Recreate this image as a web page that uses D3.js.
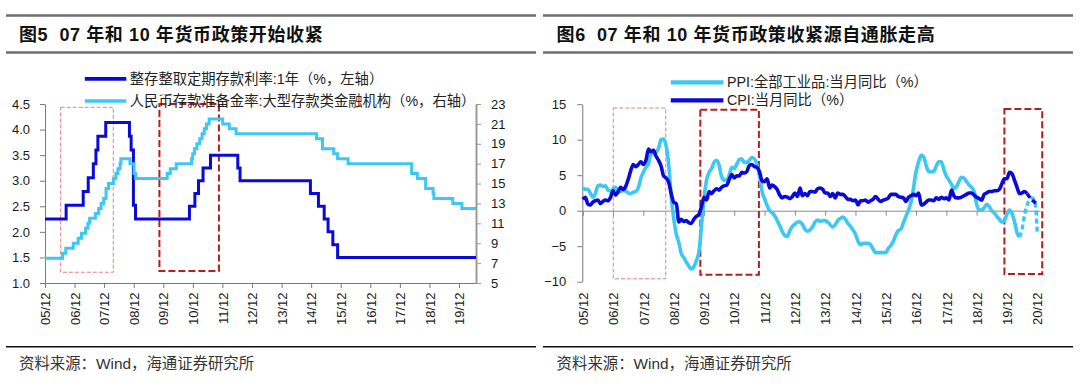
<!DOCTYPE html>
<html>
<head>
<meta charset="utf-8">
<script src="https://cdn.jsdelivr.net/npm/d3@7"></script>
<style>
    body { margin: 0; background: #fff; }
    svg text { font-family: "Liberation Sans", Arial, "Noto Sans CJK SC", sans-serif; }
</style>
</head>
<body>
<div id="charts"></div>
<script>
// ---- left chart: step series (change dates / new level) ----
const depositDates = ["2005-12-01", "2006-08-19", "2007-03-18", "2007-05-19", "2007-07-21", "2007-08-22", "2007-09-15",
    "2007-12-21", "2008-10-09", "2008-10-30", "2008-11-27", "2008-12-23", "2010-10-20", "2010-12-26", "2011-02-09",
    "2011-04-06", "2011-07-07", "2012-06-08", "2012-07-06", "2014-11-22", "2015-03-01", "2015-05-11", "2015-06-28",
    "2015-08-26", "2015-10-24", "2020-06-28"];
const depositRates = [2.25, 2.52, 2.79, 3.06, 3.33, 3.60, 3.87, 4.14, 3.87, 3.60, 2.52, 2.25, 2.50, 2.75, 3.00,
    3.25, 3.50, 3.25, 3.00, 2.75, 2.50, 2.25, 2.00, 1.75, 1.50, 1.50];

const rrrDates = ["2005-12-01", "2006-07-05", "2006-08-15", "2006-11-15", "2007-01-15", "2007-02-25", "2007-04-16",
    "2007-05-15", "2007-06-05", "2007-08-15", "2007-09-25", "2007-10-25", "2007-11-26", "2007-12-25", "2008-01-25",
    "2008-03-25", "2008-04-25", "2008-05-20", "2008-06-15", "2008-06-25", "2008-10-15", "2008-12-05", "2008-12-25",
    "2010-01-18", "2010-02-25", "2010-05-10", "2010-11-16", "2010-11-29", "2010-12-20", "2011-01-20", "2011-02-24",
    "2011-03-25", "2011-04-21", "2011-05-18", "2011-06-20", "2011-12-05", "2012-02-24", "2012-05-18", "2015-02-05",
    "2015-04-20", "2015-09-06", "2015-10-24", "2016-03-01", "2018-04-25", "2018-07-05", "2018-10-15", "2019-01-15",
    "2019-01-25", "2019-09-16", "2020-01-06", "2020-06-28"];
const rrrValues = [7.5, 8.0, 8.5, 9.0, 9.5, 10.0, 10.5, 11.0, 11.5, 12.0, 12.5, 13.0, 13.5, 14.5, 15.0,
    15.5, 16.0, 16.5, 17.0, 17.5, 17.0, 16.0, 15.5, 16.0, 16.5, 17.0, 17.5, 18.0, 18.5, 19.0, 19.5,
    20.0, 20.5, 21.0, 21.5, 21.0, 20.5, 20.0, 19.5, 18.5, 18.0, 17.5, 17.0, 16.0, 15.5, 14.5, 14.0,
    13.5, 13.0, 12.5, 12.5];

// ---- right chart: monthly series starting 2005-12 ----
const monthStart = "2005-12-01";
const cpiValues = [1.6,
    1.9, 0.9, 0.8, 1.2, 1.4, 1.5, 1.0, 1.3, 1.5, 1.4, 1.9, 2.8,
    2.2, 2.7, 3.3, 3.0, 3.4, 4.4, 5.6, 6.5, 6.2, 6.5, 6.9, 6.5,
    7.1, 8.7, 8.3, 8.5, 7.7, 7.1, 6.3, 4.9, 4.6, 4.0, 2.4, 1.2,
    1.0, -1.6, -1.2, -1.5, -1.4, -1.7, -1.8, -1.2, -0.8, -0.5, 0.6, 1.9,
    1.5, 2.7, 2.4, 2.8, 3.1, 2.9, 3.3, 3.5, 3.6, 4.4, 5.1, 4.6,
    4.9, 4.9, 5.4, 5.3, 5.5, 6.4, 6.5, 6.2, 6.1, 5.5, 4.2, 4.1,
    4.5, 3.2, 3.6, 3.4, 3.0, 2.2, 1.8, 2.0, 1.9, 1.7, 2.0, 2.5,
    2.0, 3.2, 2.1, 2.4, 2.1, 2.7, 2.7, 2.6, 3.1, 3.2, 3.0, 2.5,
    2.5, 2.0, 2.4, 1.8, 2.5, 2.3, 2.3, 2.0, 1.6, 1.6, 1.4, 1.5,
    0.8, 1.4, 1.4, 1.5, 1.2, 1.4, 1.6, 2.0, 1.6, 1.3, 1.5, 1.6,
    1.8, 2.3, 2.3, 2.3, 2.0, 1.9, 1.8, 1.3, 1.9, 2.1, 2.3, 2.1,
    2.5, 0.8, 0.9, 1.2, 1.5, 1.5, 1.4, 1.8, 1.6, 1.9, 1.7, 1.8,
    1.5, 2.9, 2.1, 1.8, 1.8, 1.9, 2.1, 2.3, 2.5, 2.5, 2.2, 1.9,
    1.7, 1.5, 2.3, 2.5, 2.7, 2.7, 2.8, 2.8, 3.0, 3.8, 4.5, 4.5,
    5.4, 5.2, 4.3, 3.3, 2.4, 2.5, 2.7, 2.4];
const ppiValues = [3.2,
    3.0, 3.0, 2.5, 1.9, 2.4, 3.5, 3.6, 3.4, 3.5, 2.9, 2.8, 3.1,
    3.3, 2.6, 2.7, 2.9, 2.8, 2.5, 2.4, 2.6, 2.7, 3.2, 4.6, 5.4,
    6.1, 6.6, 8.0, 8.1, 8.2, 8.8, 10.0, 10.1, 9.1, 6.6, 2.0, -1.1,
    -3.3, -4.5, -6.0, -6.6, -7.2, -7.8, -8.2, -7.9, -7.0, -5.8, -2.1, 1.7,
    4.3, 5.4, 5.9, 6.8, 7.1, 6.4, 4.8, 4.3, 4.3, 5.0, 6.1, 5.9,
    6.6, 7.2, 7.3, 6.8, 6.8, 7.1, 7.5, 7.3, 6.5, 5.0, 2.7, 1.7,
    0.7, 0.0, -0.3, -0.7, -1.4, -2.1, -2.9, -3.5, -3.6, -2.8, -2.2, -1.9,
    -1.6, -1.6, -1.9, -2.6, -2.9, -2.7, -2.3, -1.6, -1.3, -1.5, -1.4, -1.4,
    -1.6, -2.0, -2.3, -2.0, -1.4, -1.1, -0.9, -1.2, -1.8, -2.2, -2.7, -3.3,
    -4.3, -4.8, -4.6, -4.6, -4.6, -4.8, -5.4, -5.9, -5.9, -5.9, -5.9, -5.9,
    -5.3, -4.9, -4.3, -3.4, -2.8, -2.6, -1.7, -0.8, 0.1, 1.2, 3.3, 5.5,
    6.9, 7.8, 7.6, 6.4, 5.5, 5.5, 5.5, 6.3, 6.9, 6.9, 5.8, 4.9,
    4.3, 3.7, 3.1, 3.4, 4.1, 4.7, 4.6, 4.1, 3.6, 3.3, 2.7, 0.9,
    0.1, 0.1, 0.4, 0.9, 0.6, 0.0, -0.3, -0.8, -1.2, -1.6, -1.4, -0.5,
    0.1, -0.4, -1.5, -3.1, -3.7];
// dashed forecast parts (first value = last actual month)
const cpiForecastStart = "2020-08-01";
const cpiForecast = [2.4, 1.9, 1.5, 1.2, 0.9];
const ppiForecastStart = "2020-05-01";
const ppiForecast = [-3.7, -2.6, -0.6, 0.8, 1.6, 1.8, 1.4, -3.1];

const yearLabels = ["05/12", "06/12", "07/12", "08/12", "09/12", "10/12", "11/12", "12/12", "13/12", "14/12",
    "15/12", "16/12", "17/12", "18/12", "19/12", "20/12"];

const parseDate = d3.timeParse("%Y-%m-%d");
const BLUE = "#0a0ad8";
const LIGHT = "#3cc8f2";

const svg = d3.select("#charts")
              .append("svg")
              .attr("width", 1080)
              .attr("height", 387);

function drawFrame(x0, x1, titleX, title) {
    svg.append("line").attr("x1", x0).attr("x2", x1).attr("y1", 15.6).attr("y2", 15.6)
       .attr("stroke", "#6e6e6e").attr("stroke-width", 2.5);
    svg.append("line").attr("x1", x0).attr("x2", x1).attr("y1", 52.6).attr("y2", 52.6)
       .attr("stroke", "#6e6e6e").attr("stroke-width", 2.5);
    svg.append("line").attr("x1", x0).attr("x2", x1).attr("y1", 346.8).attr("y2", 346.8)
       .attr("stroke", "#111").attr("stroke-width", 1.5);
    svg.append("text").attr("x", titleX).attr("y", 41)
       .style("font-size", "18px").style("font-weight", "bold").style("letter-spacing", "0.6px")
       .attr("fill", "#111")
       .attr("xml:space", "preserve")
       .text(title);
    svg.append("text").attr("x", titleX).attr("y", 368.8)
       .style("font-size", "15.4px").attr("fill", "#333")
       .text("资料来源：Wind，海通证券研究所");
}

function drawLegend(items, lineX0, lineX1, ys, lineWidth) {
    items.forEach(function (item, i) {
        svg.append("line").attr("x1", lineX0).attr("x2", lineX1).attr("y1", ys[i]).attr("y2", ys[i])
           .attr("stroke", item.color).attr("stroke-width", lineWidth);
        svg.append("text").attr("x", lineX1 + 3.5).attr("y", ys[i] + 5)
           .style("font-size", "14.3px").attr("fill", "#222")
           .text(item.label);
    });
}

function styleAxis(g, color) {
    g.select(".domain").attr("stroke", color);
    g.selectAll(".tick line").attr("stroke", color);
    g.selectAll(".tick text").attr("fill", "#1a1a1a").style("font-size", "13px");
}

function drawBox(x, y, box, color, width, dash) {
    svg.append("rect")
       .attr("x", x(parseDate(box[0])))
       .attr("y", y(box[3]))
       .attr("width", x(parseDate(box[1])) - x(parseDate(box[0])))
       .attr("height", y(box[2]) - y(box[3]))
       .attr("fill", "none")
       .attr("stroke", color)
       .attr("stroke-width", width)
       .attr("stroke-dasharray", dash);
}

function loadLeftChart() {
    drawFrame(6, 536, 19, "图5  07 年和 10 年货币政策开始收紧");

    const x = d3.scaleTime().domain([parseDate("2005-12-01"), parseDate("2020-06-28")]).range([45, 476]);
    const y = d3.scaleLinear().domain([1.0, 4.5]).range([283, 104]);
    const y2 = d3.scaleLinear().domain([5, 23]).range([283, 104]);

    const tickDates = yearLabels.slice(0, 15).map(function (d) {
        return new Date(2000 + +d.slice(0, 2), 11, 1);
    });

    const gx = svg.append("g")
                  .attr("transform", "translate(0," + 283 + ")")
                  .call(d3.axisBottom(x).tickValues(tickDates).tickSize(5).tickSizeOuter(0)
                          .tickFormat(function (d, i) { return yearLabels[i]; }));
    gx.selectAll("text")
      .attr("transform", "rotate(-90)")
      .attr("x", -9.5).attr("y", 0).attr("dy", "0.36em")
      .style("text-anchor", "end");
    styleAxis(gx, "#7a7a7a");

    const gy = svg.append("g")
                  .attr("transform", "translate(45,0)")
                  .call(d3.axisLeft(y).tickValues(d3.range(1, 4.51, 0.5)).tickFormat(d3.format(".1f"))
                          .tickSize(5).tickSizeOuter(0).tickPadding(10));
    styleAxis(gy, "#7a7a7a");

    const gy2 = svg.append("g")
                   .attr("transform", "translate(476,0)")
                   .call(d3.axisRight(y2).tickValues(d3.range(5, 23.1, 2))
                           .tickSize(5).tickSizeOuter(0).tickPadding(10));
    styleAxis(gy2, "#9a9a9a");
    gy2.select(".domain").attr("stroke-width", 2);

    drawBox(x, y, ["2006-06-12", "2008-03-23", 1.21, 4.435], "#d98585", 1, "4,2");
    drawBox(x, y, ["2009-10-14", "2011-10-19", 1.235, 4.5], "#b81c1c", 2, "7,3");

    const deposit = depositDates.map(function (d, i) {
        return {date: parseDate(d), value: depositRates[i]};
    });
    const rrr = rrrDates.map(function (d, i) {
        return {date: parseDate(d), value: rrrValues[i]};
    });

    svg.append("path")
       .datum(deposit)
       .attr("fill", "none")
       .attr("stroke", BLUE)
       .attr("stroke-width", 3)
       .attr("d", d3.line().curve(d3.curveStepAfter)
                    .x(function (d) { return x(d.date); })
                    .y(function (d) { return y(d.value); }));
    svg.append("path")
       .datum(rrr)
       .attr("fill", "none")
       .attr("stroke", LIGHT)
       .attr("stroke-width", 3)
       .attr("d", d3.line().curve(d3.curveStepAfter)
                    .x(function (d) { return x(d.date); })
                    .y(function (d) { return y2(d.value); }));

    drawLegend([
        {label: "整存整取定期存款利率:1年（%，左轴）", color: BLUE},
        {label: "人民币存款准备金率:大型存款类金融机构（%，右轴）", color: LIGHT}
    ], 84.8, 126.3, [78.9, 101], 3.6);
}

function loadRightChart() {
    drawFrame(543, 1073, 556.6, "图6  07 年和 10 年货币政策收紧源自通胀走高");

    const x = d3.scaleTime().domain([parseDate("2005-12-01"), parseDate("2021-01-03")]).range([582.8, 1040]);
    const y = d3.scaleLinear().domain([-10, 15]).range([281.7, 104.2]);

    const tickDates = yearLabels.map(function (d) {
        return new Date(2000 + +d.slice(0, 2), 11, 1);
    });
    const labelOffset = y(-10) - y(0) + 10.8;

    const gx = svg.append("g")
                  .attr("transform", "translate(0," + y(0) + ")")
                  .call(d3.axisBottom(x).tickValues(tickDates).tickSize(5).tickSizeOuter(0)
                          .tickFormat(function (d, i) { return yearLabels[i]; }));
    gx.selectAll("text")
      .attr("transform", "rotate(-90)")
      .attr("x", -labelOffset).attr("y", 0).attr("dy", "0.36em")
      .style("text-anchor", "end");
    styleAxis(gx, "#8a8a8a");

    const gy = svg.append("g")
                  .attr("transform", "translate(582.3,0)")
                  .call(d3.axisLeft(y).tickValues(d3.range(-10, 15.1, 5))
                          .tickSize(5).tickSizeOuter(0).tickPadding(11));
    styleAxis(gy, "#7a7a7a");

    drawBox(x, y, ["2006-12-03", "2008-08-27", -9.59, 14.46], "#d98585", 1, "4,2");
    drawBox(x, y, ["2009-10-18", "2011-09-24", -9.01, 14.23], "#b81c1c", 2, "7,3");
    drawBox(x, y, ["2019-11-01", "2021-01-30", -8.9, 14.32], "#b81c1c", 2, "7,3");

    const start = parseDate(monthStart);
    function monthly(values, from) {
        return values.map(function (v, i) {
            return {date: d3.timeMonth.offset(from, i), value: v};
        });
    }
    const line = d3.line()
                   .curve(d3.curveMonotoneX)
                   .x(function (d) { return x(d.date); })
                   .y(function (d) { return y(d.value); });

    svg.append("path").datum(monthly(ppiValues, start))
       .attr("fill", "none").attr("stroke", LIGHT).attr("stroke-width", 3.6)
       .attr("stroke-linejoin", "round").attr("d", line);
    svg.append("path").datum(monthly(ppiForecast, parseDate(ppiForecastStart)))
       .attr("fill", "none").attr("stroke", LIGHT).attr("stroke-width", 3.4)
       .attr("stroke-dasharray", "5,3").attr("d", line);
    svg.append("path").datum(monthly(cpiValues, start))
       .attr("fill", "none").attr("stroke", BLUE).attr("stroke-width", 3.6)
       .attr("stroke-linejoin", "round").attr("d", line);
    svg.append("path").datum(monthly(cpiForecast, parseDate(cpiForecastStart)))
       .attr("fill", "none").attr("stroke", BLUE).attr("stroke-width", 3.4)
       .attr("stroke-dasharray", "5,3").attr("d", line);

    drawLegend([
        {label: "PPI:全部工业品:当月同比（%）", color: LIGHT},
        {label: "CPI:当月同比（%）", color: BLUE}
    ], 670.8, 723.4, [82.4, 100.3], 4.2);
}

loadLeftChart();
loadRightChart();
</script>
</body>
</html>
